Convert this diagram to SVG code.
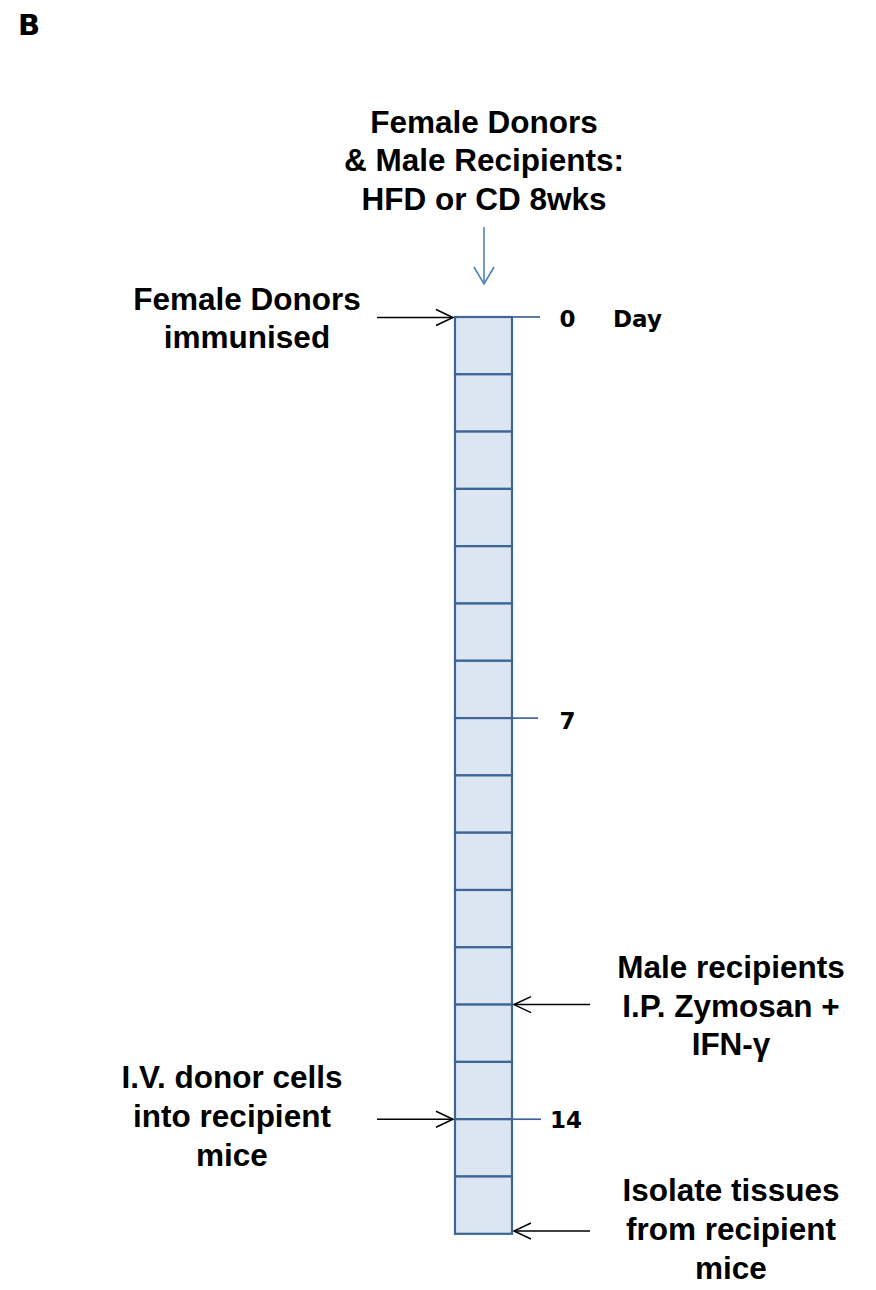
<svg xmlns="http://www.w3.org/2000/svg" width="876" height="1290" viewBox="0 0 876 1290">
<defs>
<style>
.lbl{font-family:"Liberation Sans",Arial,sans-serif;font-weight:bold;font-size:31.5px;fill:#000;text-anchor:middle}
.day{font-family:"DejaVu Sans","Open Sans",sans-serif;font-weight:bold;font-size:23px;fill:#000}
.cell{fill:#DCE6F2;stroke:#3E6598;stroke-width:2.2}
.tick{stroke:#3E6598;stroke-width:1.7;fill:none}
.arr{stroke:#000;stroke-width:1.5;fill:none}
.barr{stroke:#4F81BD;stroke-width:1.6;fill:none}
</style>
<marker id="ah" markerUnits="userSpaceOnUse" markerWidth="24" markerHeight="24" viewBox="-20 -12 24 24" refX="0" refY="0" orient="auto">
<polyline points="-17,-8 0,0 -17,8" fill="none" stroke="#000" stroke-width="1.5"/>
</marker>
<marker id="bh" markerUnits="userSpaceOnUse" markerWidth="24" markerHeight="24" viewBox="-20 -12 24 24" refX="0" refY="0" orient="auto">
<polyline points="-17,-10 0,0 -17,10" fill="none" stroke="#4F81BD" stroke-width="1.6"/>
</marker>
</defs>
<rect width="876" height="1290" fill="#fff"/>
<text x="18" y="35" font-family="DejaVu Sans,sans-serif" font-weight="bold" font-size="29" fill="#000">B</text>

<g id="timeline">
<rect class="cell" x="455" y="317" width="57" height="57.3"/>
<rect class="cell" x="455" y="374.3" width="57" height="57.3"/>
<rect class="cell" x="455" y="431.6" width="57" height="57.3"/>
<rect class="cell" x="455" y="488.9" width="57" height="57.3"/>
<rect class="cell" x="455" y="546.2" width="57" height="57.3"/>
<rect class="cell" x="455" y="603.5" width="57" height="57.3"/>
<rect class="cell" x="455" y="660.8" width="57" height="57.3"/>
<rect class="cell" x="455" y="718.1" width="57" height="57.3"/>
<rect class="cell" x="455" y="775.4" width="57" height="57.3"/>
<rect class="cell" x="455" y="832.7" width="57" height="57.3"/>
<rect class="cell" x="455" y="890" width="57" height="57.3"/>
<rect class="cell" x="455" y="947.3" width="57" height="57.3"/>
<rect class="cell" x="455" y="1004.6" width="57" height="57.3"/>
<rect class="cell" x="455" y="1061.9" width="57" height="57.3"/>
<rect class="cell" x="455" y="1119.2" width="57" height="57.3"/>
<rect class="cell" x="455" y="1176.5" width="57" height="57.3"/>
<line class="tick" x1="512" y1="317" x2="540" y2="317"/>
<line class="tick" x1="512" y1="718.1" x2="538" y2="718.1"/>
<line class="tick" x1="512" y1="1119.2" x2="541" y2="1119.2"/>
</g>

<g id="day-labels">
<text class="day" x="567.5" y="327" text-anchor="middle">0</text>
<text class="day" x="613" y="327">Day</text>
<text class="day" x="567.5" y="729" text-anchor="middle">7</text>
<text class="day" x="566" y="1128" text-anchor="middle">14</text>
</g>

<g id="node-diet">
<text class="lbl" x="484" y="133">Female Donors</text>
<text class="lbl" x="484" y="171">&amp; Male Recipients:</text>
<text class="lbl" x="484" y="209.5">HFD or CD 8wks</text>
</g>

<g id="node-immunised">
<text class="lbl" x="247" y="310">Female Donors</text>
<text class="lbl" x="247" y="348">immunised</text>
</g>

<g id="node-zymosan">
<text class="lbl" x="731" y="978">Male recipients</text>
<text class="lbl" x="731" y="1017">I.P. Zymosan +</text>
<text class="lbl" x="731" y="1055">IFN-γ</text>
</g>

<g id="node-iv">
<text class="lbl" x="232" y="1088">I.V. donor cells</text>
<text class="lbl" x="232" y="1127">into recipient</text>
<text class="lbl" x="232" y="1166">mice</text>
</g>

<g id="node-isolate">
<text class="lbl" x="731" y="1201">Isolate tissues</text>
<text class="lbl" x="731" y="1240">from recipient</text>
<text class="lbl" x="731" y="1279">mice</text>
</g>

<g id="connectors">
<line class="barr" x1="484" y1="227" x2="484" y2="284" marker-end="url(#bh)"/>
<line class="arr" x1="377" y1="317.5" x2="453" y2="317.5" marker-end="url(#ah)"/>
<line class="arr" x1="590" y1="1004.6" x2="514" y2="1004.6" marker-end="url(#ah)"/>
<line class="arr" x1="377" y1="1119.2" x2="453" y2="1119.2" marker-end="url(#ah)"/>
<line class="arr" x1="590" y1="1231" x2="514" y2="1231" marker-end="url(#ah)"/>
</g>
</svg>
